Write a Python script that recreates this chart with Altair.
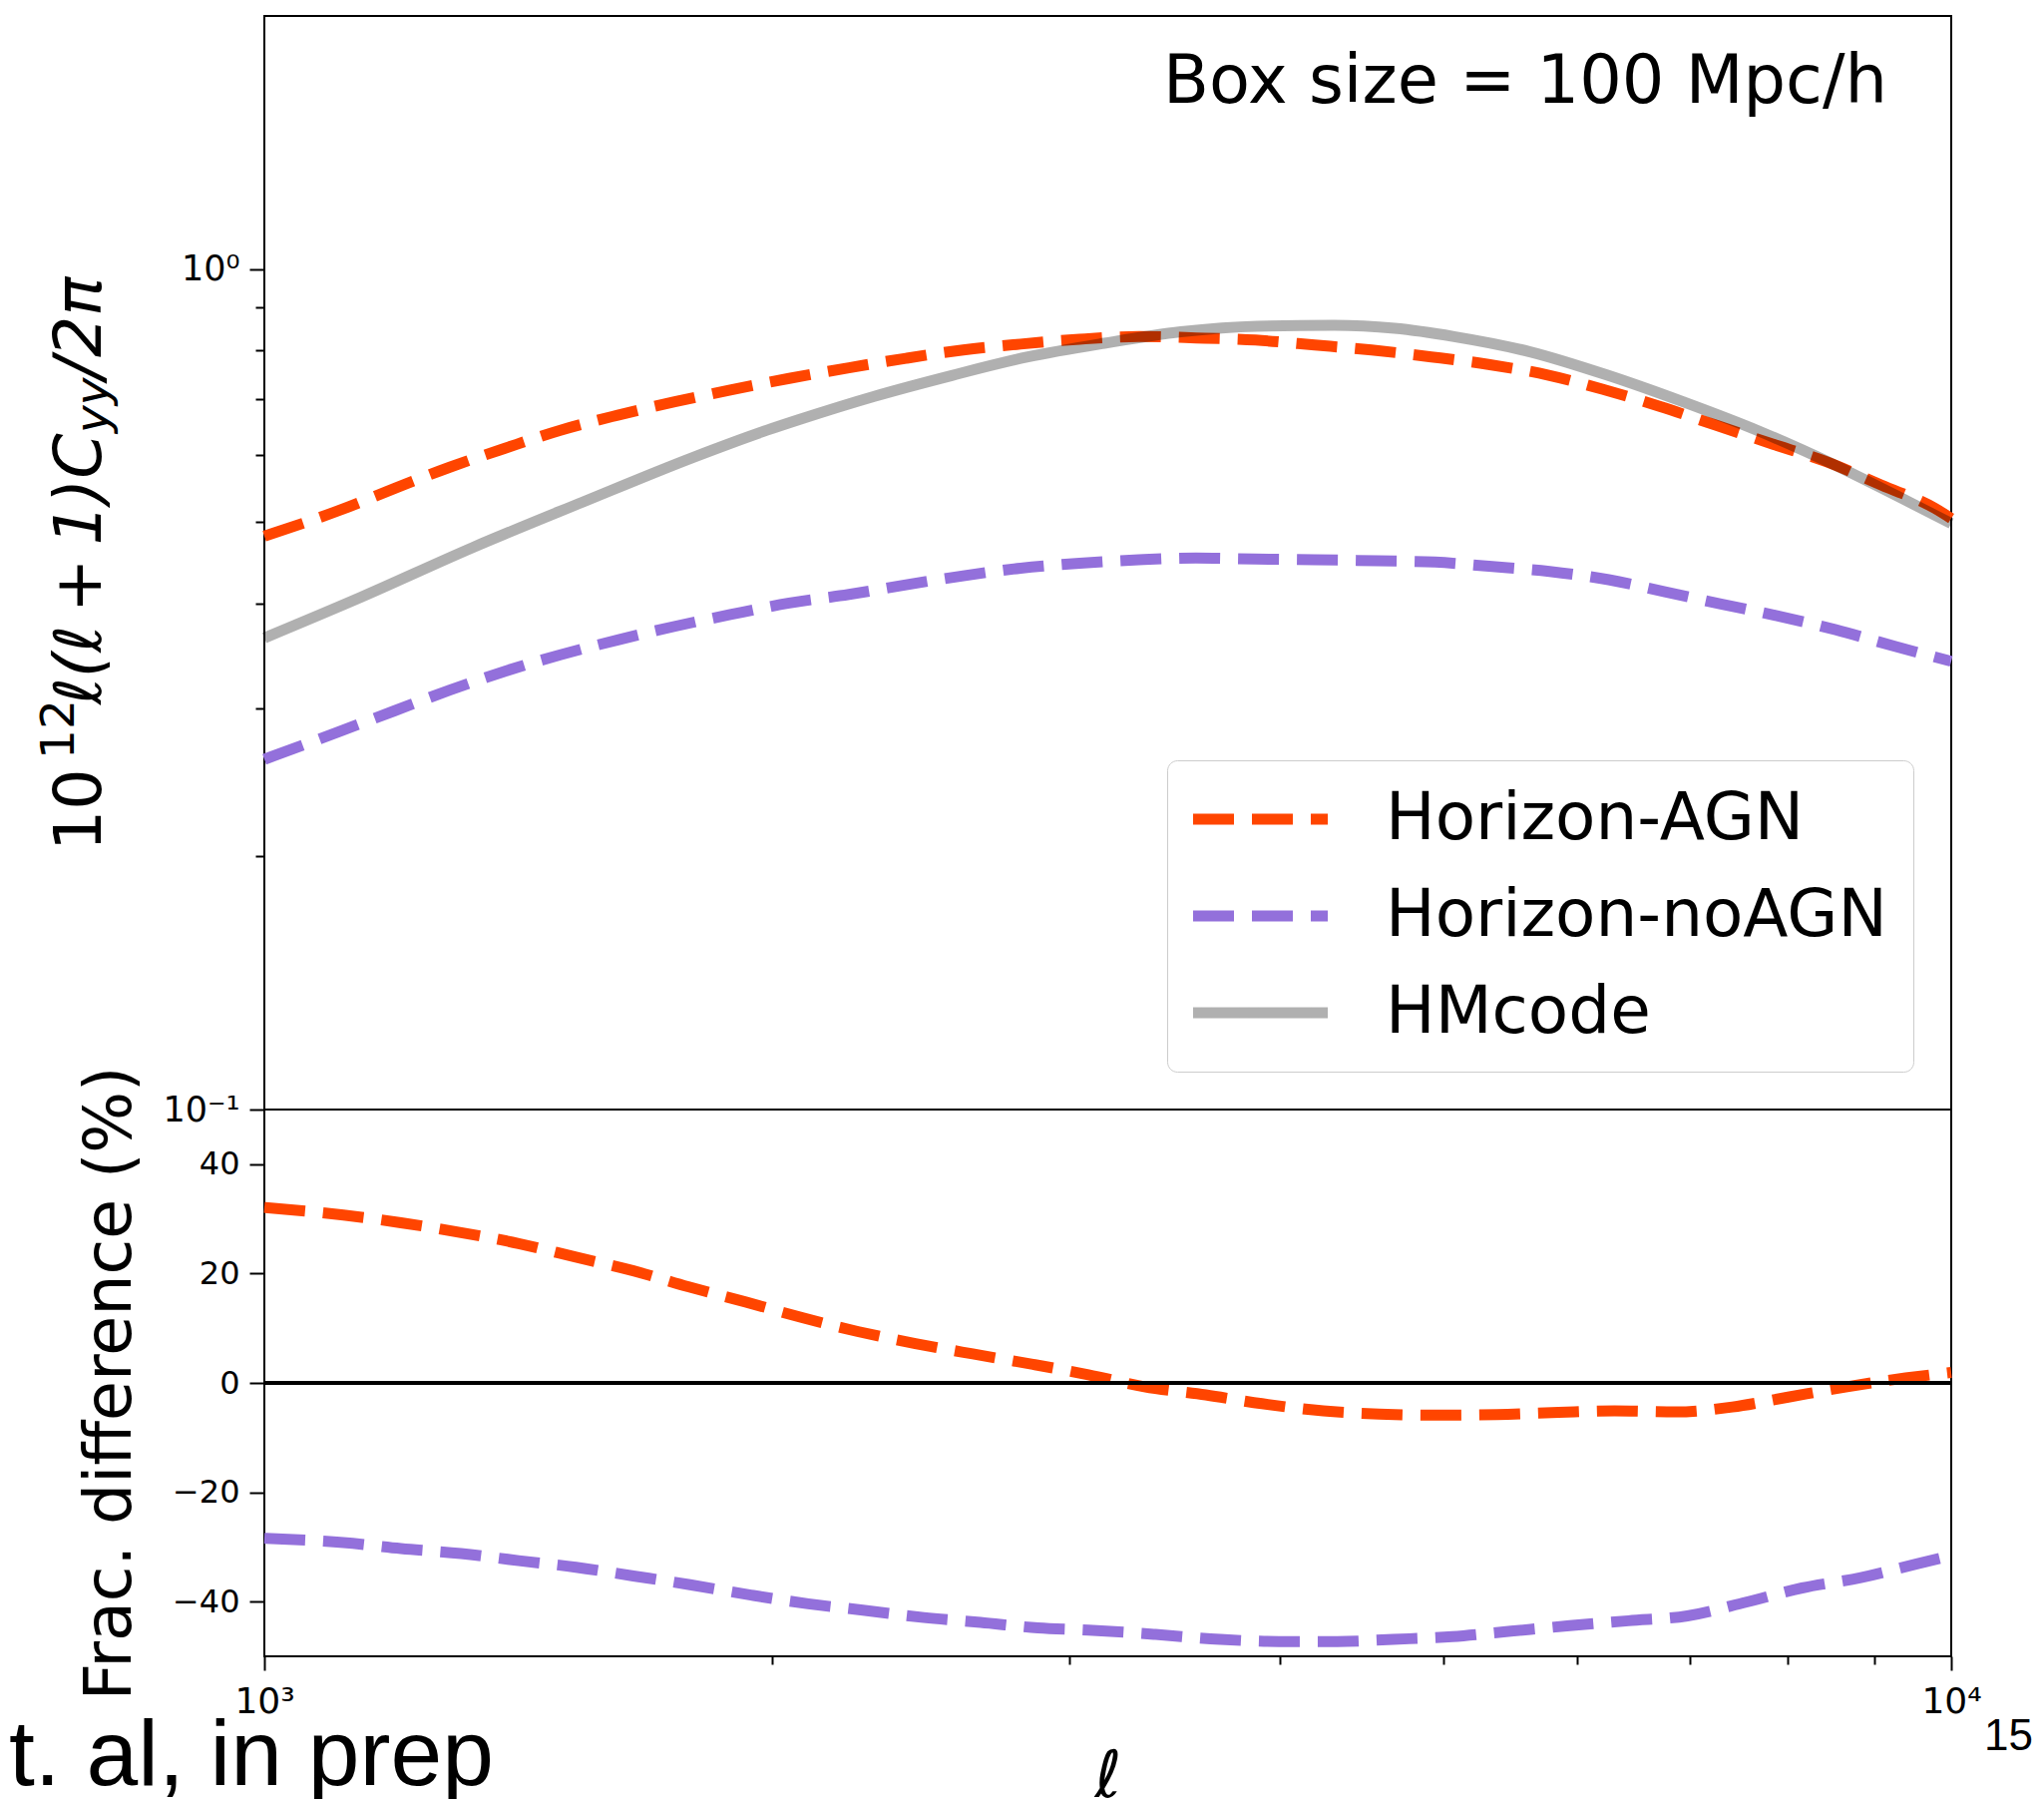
import altair as alt
import pandas as pd

# ---------------- data ----------------
SERIES = ["Horizon-AGN", "Horizon-noAGN", "HMcode"]
COLORS = ["#ff4500", "#9370db", "#b0b0b0"]

# top panel: 10^12 l(l+1) C_yy / 2pi
ELL_AGN_TOP = [1000, 1107, 1194, 1288, 1389, 1498, 1620, 1751, 1889, 2047, 2221, 2401, 2596, 2807,
               3043, 3299, 3567, 3868, 4194, 4533, 4918, 5316, 5764, 6232, 6723, 7250, 7818, 8431,
               9094, 9782, 10000]
CL_AGN_TOP = [0.481, 0.516, 0.548, 0.581, 0.612, 0.643, 0.670, 0.695, 0.718, 0.741, 0.763, 0.783,
              0.801, 0.814, 0.825, 0.831, 0.828, 0.823, 0.812, 0.801, 0.786, 0.770, 0.748, 0.718,
              0.686, 0.652, 0.620, 0.590, 0.553, 0.519, 0.505]

ELL_NOAGN_TOP = [1000, 1107, 1194, 1288, 1389, 1498, 1620, 1751, 1889, 2047, 2221, 2401, 2596, 2807,
                 3043, 3299, 3567, 3868, 4194, 4571, 4943, 5345, 5780, 6266, 6755, 7303, 7918, 8542,
                 9260, 10000]
CL_NOAGN_TOP = [0.261, 0.2815, 0.298, 0.3155, 0.3323, 0.3476, 0.362, 0.3757, 0.388, 0.4005, 0.410,
                0.421, 0.4315, 0.4406, 0.4467, 0.4508, 0.453, 0.4517, 0.451, 0.4496, 0.448, 0.4426,
                0.4367, 0.4269, 0.4134, 0.3994, 0.386, 0.3722, 0.3557, 0.3414]

ELL_HM = [1000, 1141, 1328, 1544, 1796, 1986, 2075, 2302, 2556, 2836, 3148, 3494, 3877, 4305, 4677,
          5073, 5627, 6249, 6934, 7696, 8538, 9479, 10000]
CL_HM = [0.364, 0.407, 0.466, 0.528, 0.597, 0.643, 0.662, 0.706, 0.747, 0.786, 0.816, 0.842, 0.855,
         0.857, 0.850, 0.831, 0.797, 0.748, 0.695, 0.641, 0.584, 0.526, 0.498]

# bottom panel: fractional difference (%)
ELL_AGN_BOT = [1000, 1114, 1205, 1308, 1415, 1530, 1655, 1783, 1929, 2086, 2248, 2432, 2630, 2855,
               3080, 3324, 3615, 3903, 4244, 4581, 4984, 5380, 5851, 6316, 6870, 7417, 8004, 8674,
               9397, 10000]
PCT_AGN_BOT = [32.1, 30.7, 29.3, 27.5, 25.5, 23.0, 20.5, 17.6, 14.8, 11.9, 9.4, 7.2, 5.3, 3.4, 1.5,
               -0.7, -2.2, -3.8, -5.1, -5.7, -5.9, -5.8, -5.4, -5.1, -5.3, -4.4, -2.6, -0.7, 0.9, 1.9]

ELL_NOAGN_BOT = [1000, 1114, 1205, 1308, 1415, 1530, 1655, 1788, 1943, 2101, 2270, 2460, 2658, 2875,
                 3080, 3375, 3686, 3993, 4327, 4670, 5061, 5483, 5941, 6437, 6976, 7557, 8157, 8840,
                 9541, 10000]
PCT_NOAGN_BOT = [-28.4, -29.2, -30.3, -31.2, -32.5, -33.7, -35.3, -36.9, -38.8, -40.4, -41.6, -42.9,
                 -43.8, -44.8, -45.2, -46.0, -46.9, -47.3, -47.3, -46.9, -46.4, -45.4, -44.4, -43.5,
                 -42.6, -40.1, -37.5, -35.6, -33.1, -31.6]

ZERO = [0]

X_TICKS = [1000, 2000, 3000, 4000, 5000, 6000, 7000, 8000, 9000, 10000]
Y_TOP_TICKS = [0.1, 0.2, 0.3, 0.4, 0.5, 0.6, 0.7, 0.8, 0.9, 1.0]
Y_BOT_TICKS = [-40, -20, 0, 20, 40]

BOX_TEXT = ["Box size = 100 Mpc/h"]
YLABEL_PARTS = ["10", "12", "ℓ(ℓ\u2009+\u20091)C", "yy", "/2π"]
BOT_YTITLE = "Frac. difference (%)"
X_TITLE = "ℓ"
CITE_TEXT = ["t. al, in prep"]
PAGE_TEXT = ["15"]

# ---------------- layout constants ----------------
W = 1691
H_TOP = 1096
H_BOT = 548
FONT = "DejaVu Sans"

x_scale = alt.Scale(type="log", domain=[1000, 10000], nice=False)
y_top_scale = alt.Scale(type="log", domain=[0.1, 2.0], nice=False)
y_bot_scale = alt.Scale(domain=[-50, 50], nice=False)
color_scale = alt.Scale(domain=SERIES, range=COLORS)
dash_scale = alt.Scale(domain=SERIES, range=[[41, 18], [41, 18], [1, 0]])

top_sim = pd.concat([
    pd.DataFrame({"ell": ELL_AGN_TOP, "value": CL_AGN_TOP, "series": SERIES[0]}),
    pd.DataFrame({"ell": ELL_NOAGN_TOP, "value": CL_NOAGN_TOP, "series": SERIES[1]}),
], ignore_index=True)
top_hm = pd.DataFrame({"ell": ELL_HM, "value": CL_HM})

bot_sim = pd.concat([
    pd.DataFrame({"ell": ELL_AGN_BOT, "pct": PCT_AGN_BOT, "series": SERIES[0]}),
    pd.DataFrame({"ell": ELL_NOAGN_BOT, "pct": PCT_NOAGN_BOT, "series": SERIES[1]}),
], ignore_index=True)

# ---------------- axes ----------------
top_y_axis = alt.Axis(
    values=Y_TOP_TICKS,
    labelExpr="datum.value == 1 ? '10⁰' : (datum.value == 0.1 ? '10⁻¹' : '')",
    tickSize={"condition": {"test": "datum.value == 1 || datum.value == 0.1", "value": 15}, "value": 9},
    labelFontSize=35, labelPadding=10, labelOverlap=False, domain=False, grid=False,
)
bot_y_axis = alt.Axis(
    values=Y_BOT_TICKS, tickSize=15, labelFontSize=32, labelPadding=10, labelOverlap=False,
    domain=False, grid=False,
    titleFontSize=65, titleFont=FONT, titleFontWeight="normal", titleAngle=270,
    titleAlign="center", titleBaseline="alphabetic", titleX=-135, titleY=274,
)
bot_x_axis = alt.Axis(
    values=X_TICKS,
    labelExpr="datum.value == 1000 ? '10³' : (datum.value == 10000 ? '10⁴' : '')",
    tickSize={"condition": {"test": "datum.value == 1000 || datum.value == 10000", "value": 14}, "value": 8},
    labelFontSize=36, labelPadding=14, labelFlush=False, labelOverlap=False, domain=False, grid=False,
    titleFontSize=65, titleFont=FONT, titleFontStyle="italic", titleFontWeight="normal",
    titleBaseline="alphabetic", titleY=140,
)

legend = alt.Legend(
    title=None, orient="none", legendX=905, legendY=746,
    symbolType="M-1.4667,0L4.5333,0", symbolSize=2025, symbolStrokeWidth=11,
    labelFont=FONT, labelFontSize=66, labelColor="black", labelLimit=1000,
    labelOffset=127, rowPadding=31, padding=26,
    fillColor="rgba(255,255,255,0.8)", strokeColor="#cccccc", cornerRadius=10,
)

# ---------------- top panel ----------------
top_lines = alt.Chart(top_sim).mark_line(strokeWidth=11, interpolate="monotone").encode(
    x=alt.X("ell:Q", scale=x_scale, axis=None),
    y=alt.Y("value:Q", scale=y_top_scale, axis=top_y_axis, title=None),
    color=alt.Color("series:N", scale=color_scale, legend=legend),
    strokeDash=alt.StrokeDash("series:N", scale=dash_scale, legend=legend),
)
top_hm_line = alt.Chart(top_hm).mark_line(
    color="black", opacity=0.31, strokeWidth=11, interpolate="monotone"
).encode(
    x=alt.X("ell:Q", scale=x_scale, axis=None),
    y=alt.Y("value:Q", scale=y_top_scale, axis=top_y_axis, title=None),
)

box_text = alt.Chart(pd.DataFrame({"t": BOX_TEXT})).mark_text(
    align="right", baseline="alphabetic", font=FONT, fontSize=67, color="black"
).encode(x=alt.value(1627), y=alt.value(87), text="t:N")


def ypiece(txt, xv, yv, size, style):
    return alt.Chart(pd.DataFrame({"t": [txt]})).mark_text(
        angle=270, align="left", baseline="alphabetic", font=FONT, fontSize=size,
        fontStyle=style, color="black"
    ).encode(x=alt.value(xv), y=alt.value(yv), text="t:N")


title_pieces = [
    ypiece(YLABEL_PARTS[0], -164, 837, 65, "normal"),
    ypiece(YLABEL_PARTS[1], -191, 745, 47, "normal"),
    ypiece(YLABEL_PARTS[2], -164, 690, 65, "italic"),
    ypiece(YLABEL_PARTS[3], -157, 418, 47, "italic"),
    ypiece(YLABEL_PARTS[4], -164, 364, 65, "italic"),
]

top = alt.layer(top_lines, top_hm_line, box_text, *title_pieces).properties(width=W, height=H_TOP)

# ---------------- bottom panel ----------------
bot_lines = alt.Chart(bot_sim).mark_line(strokeWidth=11, interpolate="monotone").encode(
    x=alt.X("ell:Q", scale=x_scale, axis=bot_x_axis, title=X_TITLE),
    y=alt.Y("pct:Q", scale=y_bot_scale, axis=bot_y_axis, title=BOT_YTITLE),
    color=alt.Color("series:N", scale=color_scale, legend=None),
    strokeDash=alt.StrokeDash("series:N", scale=dash_scale, legend=None),
)
zero_line = alt.Chart(pd.DataFrame({"y": ZERO})).mark_rule(color="black", strokeWidth=4).encode(
    y=alt.Y("y:Q", scale=y_bot_scale, axis=bot_y_axis, title=BOT_YTITLE),
)
cite_text = alt.Chart(pd.DataFrame({"t": CITE_TEXT})).mark_text(
    align="left", baseline="alphabetic", font="Liberation Sans", fontSize=93, color="black"
).encode(x=alt.value(-256), y=alt.value(677), text="t:N")
page_text = alt.Chart(pd.DataFrame({"t": PAGE_TEXT})).mark_text(
    align="left", baseline="alphabetic", font="Liberation Sans", fontSize=44, color="black"
).encode(x=alt.value(1724), y=alt.value(642), text="t:N")

bottom = alt.layer(bot_lines, zero_line, cite_text, page_text).properties(width=W, height=H_BOT)

chart = alt.vconcat(top, bottom, spacing=0, bounds="flush").resolve_scale(
    color="independent", strokeDash="independent"
).properties(
    padding={"left": 0, "top": 7, "right": 0, "bottom": 0}
).configure_view(
    stroke="black", strokeWidth=2
).configure_axis(
    labelFont=FONT, titleFont=FONT, labelColor="black", titleColor="black",
    tickColor="black", tickWidth=2,
)

chart.save("out.html", embed_options={"renderer": "svg", "actions": False})
